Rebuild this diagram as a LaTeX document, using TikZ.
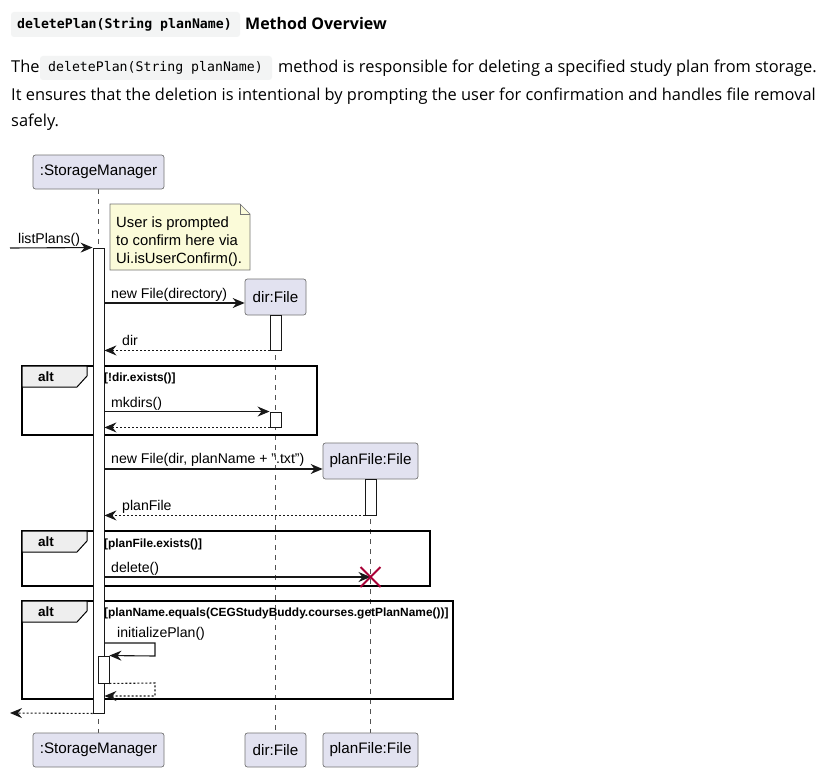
\documentclass[tikz,border=0pt]{standalone}
\usepackage{fontspec}
\setmainfont{Liberation Sans}
\newfontfamily\bodyfont{Open Sans}
\newfontfamily\codefont{DejaVu Sans Mono}
\usetikzlibrary{arrows.meta}
\definecolor{partfill}{HTML}{E2E2F0}
\definecolor{notefill}{HTML}{FBFBD9}
\definecolor{codebg}{HTML}{F3F4F4}
\definecolor{umlline}{HTML}{181818}
\definecolor{xred}{HTML}{A80036}
\definecolor{tabfill}{HTML}{EEEEEE}
\begin{document}
\begin{tikzpicture}[x=1pt,y=-1pt,
  participant/.style={draw=umlline!60, fill=partfill, rounded corners=2.5pt, line width=0.7pt,
    minimum height=34pt, inner sep=0pt, font=\fontsize{15.2}{17}\selectfont},
  lifeline/.style={draw=umlline!75, dash pattern=on 5pt off 5pt, line width=0.6pt},
  actbar/.style={draw=umlline, fill=white, line width=0.9pt, inner sep=0pt, minimum width=11pt},
  msg/.style={draw=umlline, line width=1.1pt, -{Stealth[length=12pt,width=10pt,inset=4pt]}},
  ret/.style={msg, dash pattern=on 2pt off 2pt},
  mlabel/.style={anchor=base west, inner sep=0pt, font=\fontsize{14.1}{16}\selectfont},
  guard/.style={anchor=base west, inner sep=0pt, font=\fontsize{11.9}{13}\selectfont\bfseries},
  frame/.style={draw=black, line width=1.5pt},
  tabshape/.style={draw=black, fill=tabfill, line width=1pt},
  tablabel/.style={inner sep=0pt, font=\fontsize{13.5}{15}\selectfont\bfseries},
  bodytext/.style={anchor=base west, inner sep=0pt, font=\bodyfont\fontsize{16.4}{19}\selectfont},
  codebox/.style={fill=codebg, rounded corners=3pt}
]
\useasboundingbox (0,0) rectangle (820,776);
\fill[white] (0,0) rectangle (820,776);

% ---------- header text ----------
\fill[codebg, rounded corners=3pt] (11,12) rectangle (240,37);
\node[anchor=base west, inner sep=0pt, font=\codefont\bfseries\fontsize{13.2}{15}\selectfont] (hcode) at (17,29) {deletePlan(String planName)};
\node[anchor=base west, inner sep=0pt, font=\bodyfont\bfseries\fontsize{16}{20}\selectfont] (htitle) at (245,30) {Method Overview};

\node[bodytext] (p1a) at (11,73) {The};
\fill[codebg, rounded corners=3pt] (40,56) rectangle (272,80);
\node[anchor=base west, inner sep=0pt, font=\codefont\fontsize{13.2}{15}\selectfont] (pcode) at (48,72) {deletePlan(String planName)};
\node[bodytext] (p1b) at (278,73) {method is responsible for deleting a specified study plan from storage.};
\node[bodytext] (p2) at (11,101) {It ensures that the deletion is intentional by prompting the user for confirmation and handles file removal};
\node[bodytext] (p3) at (11,126) {safely.};

% ---------- lifelines ----------
\coordinate (smLifeTop) at (98.5,189);
\coordinate (smLifeBot) at (98.5,733);
\coordinate (dirLifeTop) at (275.5,315);
\coordinate (dirLifeBot) at (275.5,733);
\coordinate (pfLifeTop) at (370.5,479);
\coordinate (pfLifeBot) at (370.5,733);
\draw[lifeline] (smLifeTop) -- (smLifeBot);
\draw[lifeline] (dirLifeTop) -- (dirLifeBot);
\draw[lifeline] (pfLifeTop) -- (pfLifeBot);

% ---------- participants ----------
\node[participant, minimum width=131pt] (smTop) at (98.5,172) {:StorageManager};
\node[participant, minimum width=61pt, minimum height=36pt] (dirTop) at (275.5,297) {dir:File};
\node[participant, minimum width=95pt, minimum height=36pt] (pfTop) at (370.5,461) {planFile:File};
\node[participant, minimum width=131pt] (smBot) at (98.5,750) {:StorageManager};
\node[participant, minimum width=61pt] (dirBot) at (275.5,750) {dir:File};
\node[participant, minimum width=95pt] (pfBot) at (370.5,750) {planFile:File};

% ---------- note ----------
\draw[fill=notefill, draw=umlline!60, line width=0.7pt] (110,204) -- (240,204) -- (250,214) -- (250,270) -- (110,270) -- cycle;
\draw[draw=umlline!60, line width=0.7pt] (240,204) -- (240,214) -- (250,214);
\node[anchor=north west, align=left, inner sep=0pt, font=\fontsize{14.8}{18}\selectfont] (note) at (116,217) {User is prompted\\to confirm here via\\Ui.isUserConfirm().};

% ---------- frames ----------
\draw[frame] (22,366) rectangle (317,435);
\draw[tabshape] (22,366) -- (87,366) -- (87,376) -- (77,387) -- (22,387) -- cycle;
\node[tablabel] (alt1) at (46,377) {alt};
\node[guard] (g1) at (104,381) {[!dir.exists()]};

\draw[frame] (22,531) rectangle (430,586);
\draw[tabshape] (22,531) -- (87,531) -- (87,541) -- (77,552) -- (22,552) -- cycle;
\node[tablabel] (alt2) at (46,542) {alt};
\node[guard] (g2) at (104,547) {[planFile.exists()]};

\draw[frame] (22,601) rectangle (453,699);
\draw[tabshape] (22,601) -- (87,601) -- (87,611) -- (77,622) -- (22,622) -- cycle;
\node[tablabel] (alt3) at (46,612) {alt};
\node[guard] (g3) at (104,616) {[planName.equals(CEGStudyBuddy.courses.getPlanName())]};

% ---------- activation bars ----------
\node[actbar, minimum height=465pt] (smAct) at (98.5,480.5) {};
\node[actbar, minimum height=35pt] (dirAct1) at (275.5,332.5) {};
\node[actbar, minimum height=15pt] (dirAct2) at (275.5,419.5) {};
\node[actbar, minimum height=36pt] (pfAct) at (370.5,497) {};
\node[actbar, minimum height=27pt] (nestAct) at (103.5,669.5) {};

% ---------- messages ----------
\coordinate (caller) at (10,248);
\coordinate (callerRet) at (10,713);
\coordinate (pfX) at (370.5,577);

\draw[msg] (caller) -- (smAct.north west);
\node[mlabel] (l1) at (18,243) {listPlans()};

\draw[msg] (smAct.east |- 0,303) -- (dirTop.west |- 0,303);
\node[mlabel] (l2) at (111,298) {new File(directory)};

\draw[ret] (dirAct1.south west) -- (smAct.east |- dirAct1.south west);
\node[mlabel] (l3) at (122,345) {dir};

\draw[msg] (smAct.east |- dirAct2.north west) -- (dirAct2.north west);
\node[mlabel] (l4) at (111,407) {mkdirs()};
\draw[ret] (dirAct2.south west) -- (smAct.east |- dirAct2.south west);

\draw[msg] (smAct.east |- 0,469) -- (pfTop.west |- 0,469);
\node[mlabel] (l5) at (111,463) {new File(dir, planName + ".txt")};

\draw[ret] (pfAct.south west) -- (smAct.east |- pfAct.south west);
\node[mlabel] (l6) at (122,510) {planFile};

\draw[msg] (smAct.east |- pfX) -- (pfX);
\node[mlabel] (l7) at (111,572) {delete()};
\draw[xred, line width=1.8pt] ([shift={(-10,-10)}]pfX) -- ([shift={(10,10)}]pfX)
  ([shift={(-10,10)}]pfX) -- ([shift={(10,-10)}]pfX);

\draw[msg] (smAct.east |- 0,643) -- (155,643) -- (155,656) -- (nestAct.north east);
\node[mlabel] (l8) at (117,637) {initializePlan()};
\draw[ret] (nestAct.south east) -- (155,683) -- (155,696) -- (smAct.east |- 0,696);

\draw[ret] (smAct.south west) -- (callerRet);
\end{tikzpicture}
\end{document}
